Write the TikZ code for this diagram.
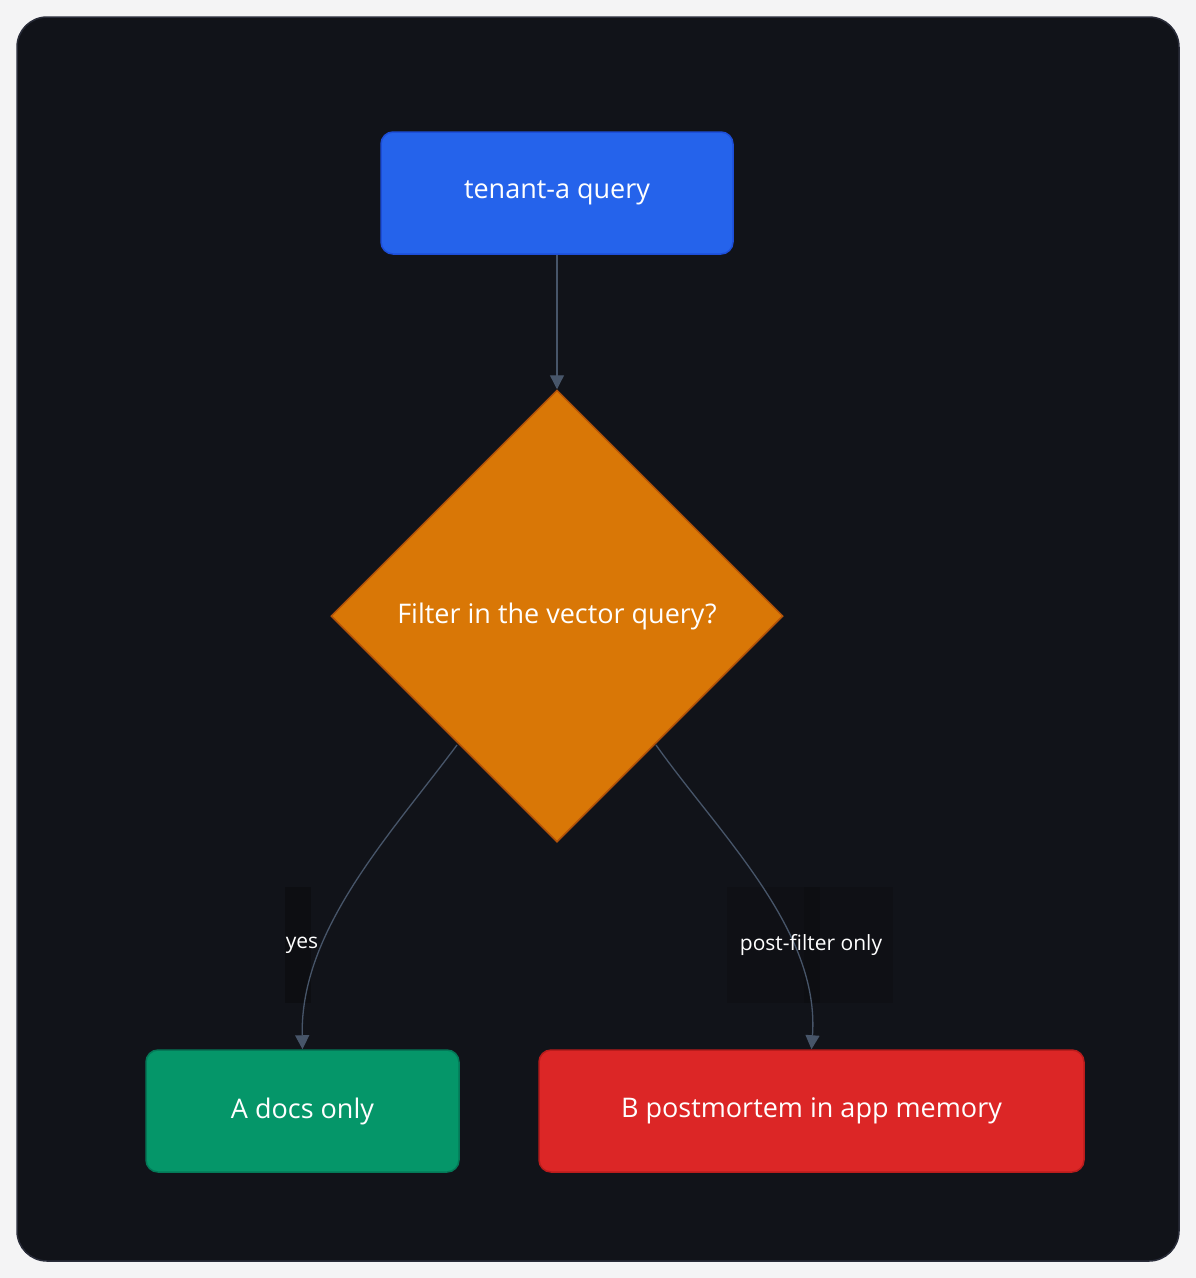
\documentclass[tikz,border=0pt]{standalone}
\usepackage{fontspec}
\setmainfont{Open Sans}
\usetikzlibrary{arrows.meta,shapes.geometric}
\definecolor{bgout}{HTML}{F4F4F5}
\definecolor{panel}{HTML}{111319}
\definecolor{panelb}{HTML}{2A2D3A}
\definecolor{edge}{HTML}{475569}
\definecolor{lblbg}{HTML}{0D0E12}
\definecolor{blue}{HTML}{2563EB}\definecolor{blueb}{HTML}{1D4ED8}
\definecolor{orng}{HTML}{D97706}\definecolor{orngb}{HTML}{B45309}
\definecolor{grn}{HTML}{059669}\definecolor{grnb}{HTML}{047857}
\definecolor{rd}{HTML}{DC2626}\definecolor{rdb}{HTML}{B91C1C}
\tikzset{
  box/.style={rounded corners=12pt,text=white,font=\fontsize{27}{30}\selectfont,inner sep=0pt},
  conn/.style={draw=edge,line width=1.3pt,-{Triangle[length=14pt,width=14pt]}},
  lbl/.style={text=white,font=\fontsize{21}{24}\selectfont}
}
\begin{document}
\begin{tikzpicture}[x=1pt,y=-1pt]
\useasboundingbox (0,0) rectangle (1196,1278);
\fill[bgout] (0,0) rectangle (1196,1278);
\draw[panelb,fill=panel,line width=1.5pt,rounded corners=30pt] (17,17) rectangle (1179,1261);
\node[box,fill=blue,draw=blueb,line width=1.5pt,minimum width=352pt,minimum height=122pt] (q) at (557,193) {tenant-a query};
\node[diamond,fill=orng,draw=orngb,line width=1.5pt,minimum width=452pt,minimum height=452pt,inner sep=0pt,text=white,font=\fontsize{27}{30}\selectfont] (d) at (557,616) {Filter in the vector query?};
\node[box,fill=grn,draw=grnb,line width=1.5pt,minimum width=313pt,minimum height=122pt] (a) at (302.5,1111) {A docs only};
\node[box,fill=rd,draw=rdb,line width=1.5pt,minimum width=545pt,minimum height=122pt] (b) at (811.5,1111) {B postmortem in app memory};
\draw[conn] (q.south) -- (d.north);
\coordinate (dl) at (457,745);
\coordinate (dr) at (656,745);
\fill[lblbg] (285,887) rectangle (311,1003);
\fill[lblbg!60!panel] (727,887) rectangle (893,1003);
\fill[lblbg] (804,887) rectangle (820,1003);
\draw[conn] (dl) .. controls (390,835) and (300,930) .. (a.north);
\draw[conn] (dr) .. controls (720,835) and (820,930) .. (b.north);
\node[lbl] (ly) at (302,945) {yes};
\node[lbl] (lp) at (811,945) {post-filter only};
\end{tikzpicture}
\end{document}
